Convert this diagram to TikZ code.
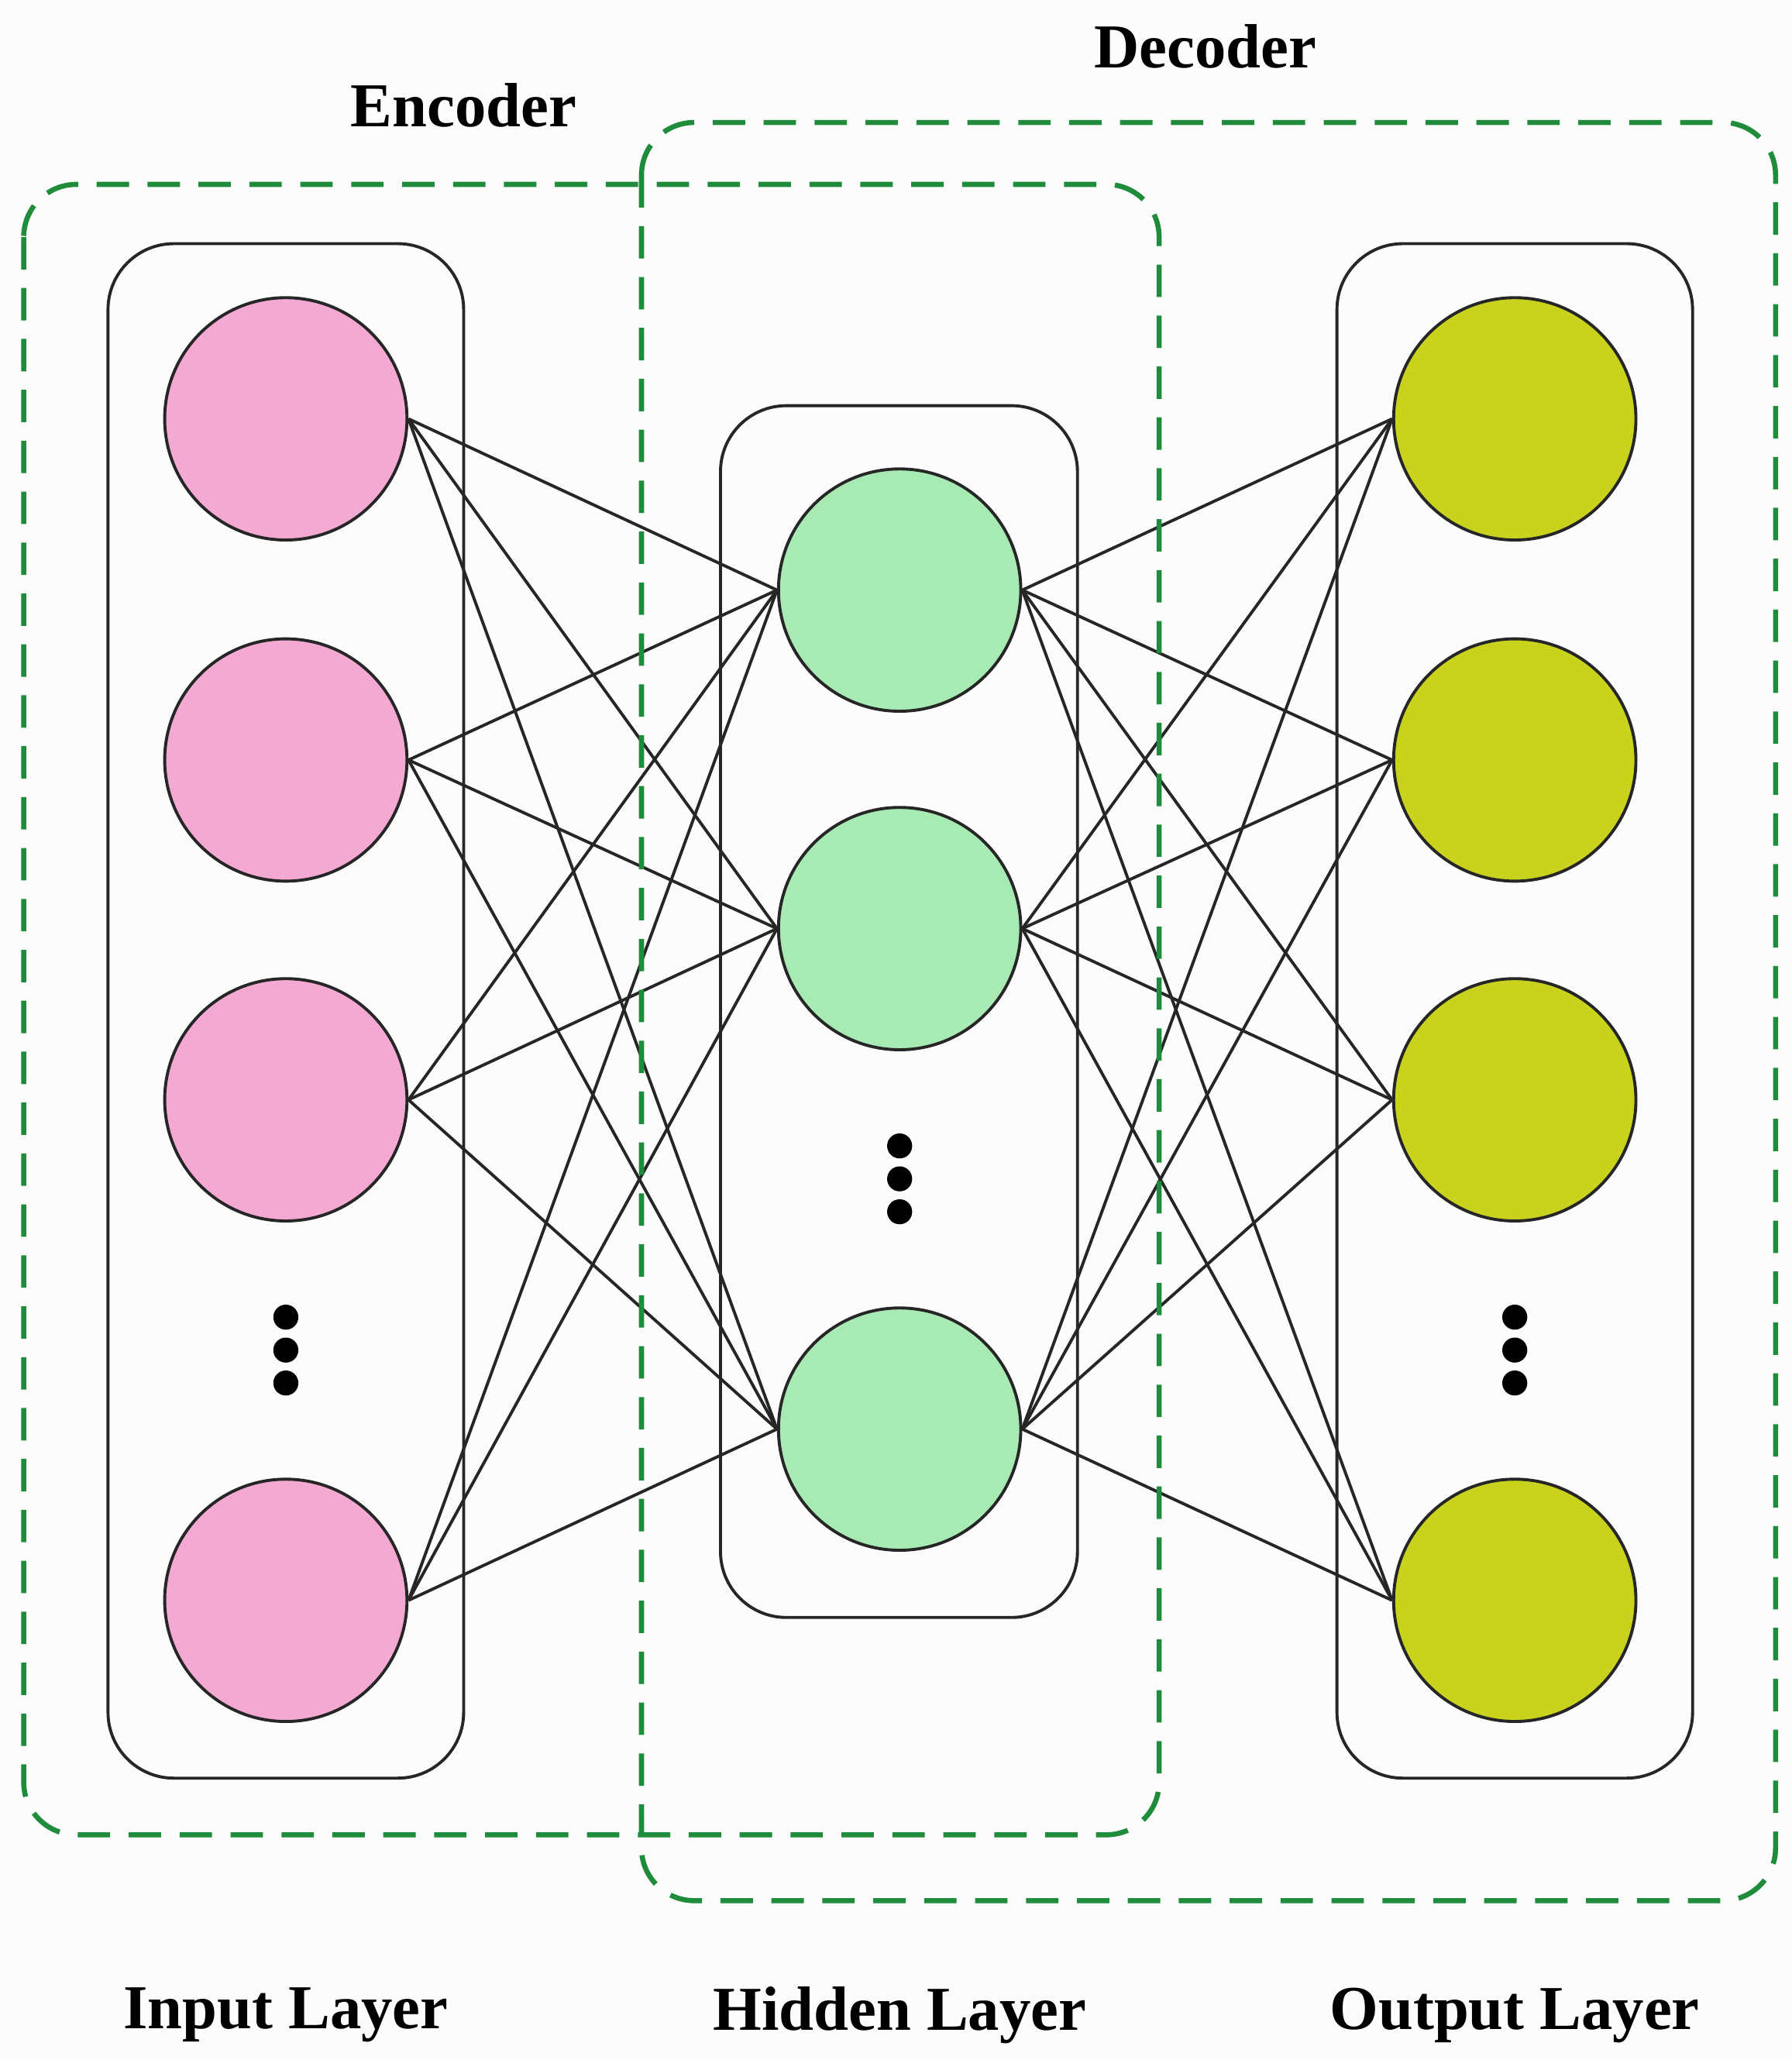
\documentclass[tikz,border=0pt]{standalone}
\usepackage{fontspec}
\setmainfont{Liberation Serif}
\usetikzlibrary{backgrounds}
\definecolor{pinkn}{HTML}{F4A9D2}
\definecolor{greenn}{HTML}{A8EAB4}
\definecolor{olive}{HTML}{C9D31E}
\definecolor{dgreen}{HTML}{1E8C3A}
\begin{document}
\begin{tikzpicture}[x=0.02cm,y=-0.02cm,
  neuron/.style={circle,draw=black!85,line width=1.3pt,minimum size=3.68cm,inner sep=0pt},
  layerbox/.style={draw=black!85,line width=1.3pt,rounded corners=1cm},
  group/.style={draw=dgreen,line width=2.2pt,dash pattern=on 14pt off 8pt,rounded corners=0.8cm},
  conn/.style={black!85,line width=1.3pt},
  dot/.style={circle,fill=black,inner sep=0pt,minimum size=0.38cm},
  lab/.style={font=\fontsize{27}{31}\selectfont\bfseries}]
\useasboundingbox (0,0) rectangle (1360,1564);
\draw[layerbox] (82,185) rectangle (352,1350);
\draw[layerbox] (547,308) rectangle (818,1228);
\draw[layerbox] (1015,185) rectangle (1285,1350);
\draw[group] (18,140) rectangle (880,1393);
\draw[group] (487,93) rectangle (1348,1443);
\foreach \i/\y in {1/318,2/577,3/835,4/1215}{
  \node[neuron,fill=pinkn] (i\i) at (217,\y) {};
  \node[neuron,fill=olive] (o\i) at (1150,\y) {};}
\foreach \i/\y in {1/448,2/705,3/1085}
  \node[neuron,fill=greenn] (h\i) at (683,\y) {};
\begin{scope}[on background layer]
\fill[white!98!gray] (0,0) rectangle (1360,1564);
\foreach \i in {1,...,4}\foreach \j in {1,2,3}{
  \draw[conn] (i\i.east) -- (h\j.west);
  \draw[conn] (h\j.east) -- (o\i.west);}
\end{scope}
\foreach \y [count=\k] in {1000,1025,1050}{
  \node[dot] (di\k) at (217,\y) {};
  \node[dot] (do\k) at (1150,\y) {};}
\foreach \y [count=\k] in {870,895,920}
  \node[dot] (dh\k) at (683,\y) {};
\node[lab] (enc) at (352,80) {Encoder};
\node[lab] (dec) at (915,35) {Decoder};
\node[lab] (li) at (217,1530) {Input Layer};
\node[lab] (lh) at (683,1530) {Hidden Layer};
\node[lab] (lo) at (1150,1530) {Output Layer};
\end{tikzpicture}
\end{document}
